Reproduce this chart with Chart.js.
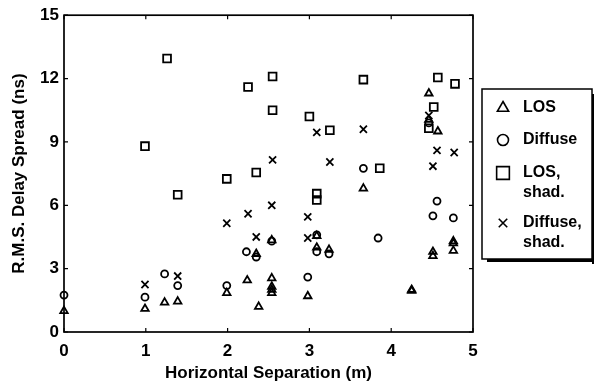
<!DOCTYPE html>
<html>
<head>
<meta charset="utf-8">
<script src="https://cdn.jsdelivr.net/npm/chart.js@4/dist/chart.umd.min.js"></script>
<style>
  html, body { margin: 0; padding: 0; background: #fff; }
  #wrap { width: 594px; height: 390px; }
</style>
</head>
<body>
<div id="wrap"><canvas id="delayChart" width="594" height="390"></canvas></div>
<script>
// Axis ticks
const xTicks = [0, 1, 2, 3, 4, 5];
const yTicks = [0, 3, 6, 9, 12, 15];

// LOS (triangles)
const losX = [0, 0.99, 1.23, 1.39, 1.99, 2.24, 2.38, 2.35, 2.54, 2.54, 2.54, 2.54, 2.54, 2.98, 3.09, 3.09, 3.24, 3.66, 4.25, 4.25, 4.51, 4.51, 4.76, 4.76, 4.76, 4.46, 4.46, 4.57];
const losY = [1.0, 1.1, 1.4, 1.45, 1.85, 2.45, 1.2, 3.7, 2.55, 2.15, 2.0, 1.85, 4.35, 1.7, 4.0, 4.55, 3.9, 6.8, 1.95, 2.0, 3.6, 3.8, 3.85, 4.2, 4.3, 11.3, 10.05, 9.5];

// Diffuse (circles)
const diffX = [0, 0.99, 1.23, 1.39, 1.99, 2.23, 2.35, 2.54, 2.98, 3.09, 3.09, 3.24, 3.66, 3.84, 4.46, 4.51, 4.56, 4.76];
const diffY = [1.75, 1.65, 2.75, 2.2, 2.2, 3.8, 3.55, 4.3, 2.6, 4.6, 3.8, 3.7, 7.75, 4.45, 9.9, 5.5, 6.2, 5.4];

// LOS, shadowed (squares)
const losShadX = [0.99, 1.26, 1.39, 1.99, 2.25, 2.35, 2.55, 2.55, 3.0, 3.09, 3.09, 3.25, 3.66, 3.86, 4.46, 4.52, 4.57, 4.78];
const losShadY = [8.8, 12.95, 6.5, 7.25, 11.6, 7.55, 12.1, 10.5, 10.2, 6.55, 6.25, 9.55, 11.95, 7.75, 9.65, 10.65, 12.05, 11.75];

// Diffuse, shadowed (crosses)
const diffShadX = [0.99, 1.39, 1.99, 2.25, 2.35, 2.54, 2.55, 2.98, 2.98, 3.09, 3.25, 3.66, 4.46, 4.51, 4.56, 4.77];
const diffShadY = [2.25, 2.65, 5.15, 5.6, 4.5, 6.0, 8.15, 5.45, 4.45, 9.45, 8.05, 9.6, 10.25, 7.85, 8.6, 8.5];

const FONT = '"Liberation Sans", Arial, Helvetica, sans-serif';

function toPoints(xs, ys) {
    return xs.map((x, i) => ({ x: x, y: ys[i] }));
}

function series(label, lines, xs, ys, style, radius, legendRadius) {
    return {
        label: label,
        lines: lines,
        legendRadius: legendRadius,
        data: toPoints(xs, ys),
        pointStyle: style,
        pointRadius: radius,
        pointBorderWidth: 1.8,
        pointBorderColor: '#000',
        pointBackgroundColor: 'rgba(0,0,0,0)',
        showLine: false,
        clip: false
    };
}

// Frame with inward tick marks on all four sides
const framePlugin = {
    id: 'frame',
    afterDraw(chart) {
        const ctx = chart.ctx;
        const a = chart.chartArea;
        const xs = chart.scales.x;
        const ys = chart.scales.y;
        ctx.save();
        ctx.strokeStyle = '#000';
        ctx.lineWidth = 1.7;
        ctx.strokeRect(a.left, a.top, a.right - a.left, a.bottom - a.top);
        ctx.lineWidth = 1.2;
        ctx.beginPath();
        xTicks.forEach(v => {
            const px = xs.getPixelForValue(v);
            ctx.moveTo(px, a.bottom); ctx.lineTo(px, a.bottom - 4);
            ctx.moveTo(px, a.top); ctx.lineTo(px, a.top + 4);
        });
        yTicks.forEach(v => {
            const py = ys.getPixelForValue(v);
            ctx.moveTo(a.left, py); ctx.lineTo(a.left + 4, py);
            ctx.moveTo(a.right, py); ctx.lineTo(a.right - 4, py);
        });
        ctx.stroke();
        ctx.restore();
    }
};

// Boxed legend with drop shadow, two-line labels
const legendPlugin = {
    id: 'boxLegend',
    afterDraw(chart) {
        const ctx = chart.ctx;
        const bx = 482, by = 89, bw = 110, bh = 170;
        ctx.save();
        ctx.fillStyle = '#000';
        ctx.fillRect(bx + 5, by + bh, bw, 3);
        ctx.fillRect(bx + bw, by + 5, 3, bh);
        ctx.fillStyle = '#fff';
        ctx.fillRect(bx, by, bw, bh);
        ctx.strokeStyle = '#000';
        ctx.lineWidth = 1.5;
        ctx.strokeRect(bx, by, bw, bh);

        const rows = [108, 140, 173, 223];
        ctx.font = 'bold 16px ' + FONT;
        ctx.textBaseline = 'middle';
        ctx.textAlign = 'left';
        chart.data.datasets.forEach((ds, i) => {
            const y = rows[i];
            ctx.lineWidth = 1.6;
            ctx.strokeStyle = '#000';
            ctx.fillStyle = 'rgba(0,0,0,0)';
            Chart.helpers.drawPoint(ctx, {
                pointStyle: ds.pointStyle,
                radius: ds.legendRadius,
                borderWidth: 1.6,
                rotation: 0
            }, 503, y);
            ctx.fillStyle = '#000';
            ds.lines.forEach((t, j) => ctx.fillText(t, 523, y + j * 20));
        });
        ctx.restore();
    }
};

const chartCtx = document.getElementById('delayChart');
new Chart(chartCtx, {
    type: 'scatter',
    data: {
        datasets: [
            series('LOS', ['LOS'], losX, losY, 'triangle', 4.3, 6.5),
            series('Diffuse', ['Diffuse'], diffX, diffY, 'circle', 3.5, 5.5),
            series('LOS, shad.', ['LOS,', 'shad.'], losShadX, losShadY, 'rect', 5.5, 9),
            series('Diffuse, shad.', ['Diffuse,', 'shad.'], diffShadX, diffShadY, 'crossRot', 5, 6)
        ]
    },
    options: {
        responsive: false,
        animation: false,
        layout: {
            padding: { left: 0, right: 121, top: 14, bottom: 0 }
        },
        plugins: {
            legend: { display: false },
            tooltip: { enabled: false }
        },
        scales: {
            x: {
                type: 'linear',
                min: 0,
                max: 5,
                afterFit: scale => { scale.height = 58; },
                afterBuildTicks: scale => { scale.ticks = xTicks.map(v => ({ value: v })); },
                grid: { display: false, drawTicks: false },
                border: { display: false },
                ticks: {
                    color: '#000',
                    padding: 9,
                    font: { family: FONT, size: 17, weight: 'bold' }
                },
                title: {
                    display: true,
                    text: 'Horizontal Separation (m)',
                    color: '#000',
                    padding: { top: 0, bottom: 6 },
                    font: { family: FONT, size: 17, weight: 'bold' }
                }
            },
            y: {
                type: 'linear',
                min: 0,
                max: 15,
                afterFit: scale => { scale.width = 64; },
                afterBuildTicks: scale => { scale.ticks = yTicks.map(v => ({ value: v })); },
                grid: { display: false, drawTicks: false },
                border: { display: false },
                ticks: {
                    color: '#000',
                    padding: 5,
                    font: { family: FONT, size: 17, weight: 'bold' }
                },
                title: {
                    display: true,
                    text: 'R.M.S. Delay Spread (ns)',
                    color: '#000',
                    padding: { top: 9, bottom: 0 },
                    font: { family: FONT, size: 17, weight: 'bold' }
                }
            }
        }
    },
    plugins: [framePlugin, legendPlugin]
});
</script>
</body>
</html>
